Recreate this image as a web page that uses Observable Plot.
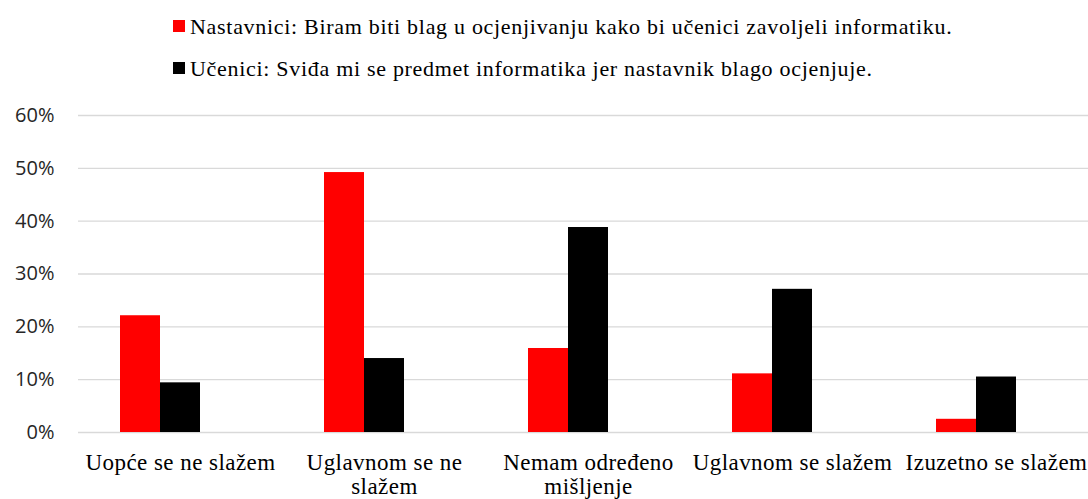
<!DOCTYPE html>
<html>
<head>
<meta charset="utf-8">
<script src="https://cdn.jsdelivr.net/npm/d3@7"></script>
<script src="https://cdn.jsdelivr.net/npm/@observablehq/plot@0.6"></script>
<style>
  html, body { margin: 0; padding: 0; background: #fff; }
  #chart svg { display: block; }
  #chart svg g[aria-label="text"] { letter-spacing: 0.45px; }
</style>
</head>
<body>
<div id="legend" style="height:90px;box-sizing:border-box;padding-top:6px;padding-left:173px;"></div>
<div id="chart"></div>
<script>
const categories = ["Uopće se ne slažem", "Uglavnom se ne slažem", "Nemam određeno mišljenje", "Uglavnom se slažem", "Izuzetno se slažem"];
const tickLabels = ["Uopće se ne slažem", "Uglavnom se ne\nslažem", "Nemam određeno\nmišljenje", "Uglavnom se slažem", "Izuzetno se slažem"];
const seriesNames = ["Nastavnici: Biram biti blag u ocjenjivanju kako bi učenici zavoljeli informatiku.",
                     "Učenici: Sviđa mi se predmet informatika jer nastavnik blago ocjenjuje."];
const seriesColors = ["#ff0000", "#000000"];
const nastavnici = [22.1, 49.2, 15.9, 11.1, 2.5];
const ucenici = [9.4, 14.0, 38.8, 27.1, 10.5];
const yTicks = [0, 10, 20, 30, 40, 50, 60];

const data = [];
categories.forEach((c, i) => {
  data.push({category: c, series: "N", value: nastavnici[i]});
  data.push({category: c, series: "U", value: ucenici[i]});
});

const serif = "'Liberation Serif', 'Times New Roman', serif";
const legend = document.getElementById("legend");
seriesNames.forEach((name, i) => {
  const d = document.createElement("div");
  d.style.cssText = `display:flex;align-items:center;white-space:nowrap;height:42px;font-family:${serif};font-size:22px;letter-spacing:0.7px;color:#000;`;
  const sw = document.createElement("span");
  sw.style.cssText = `display:inline-block;width:12px;height:12px;margin-right:5px;background:${seriesColors[i]};position:relative;top:-1px;`;
  const t = document.createElement("span");
  t.textContent = name;
  d.appendChild(sw);
  d.appendChild(t);
  legend.appendChild(d);
});

const fmt = c => tickLabels[categories.indexOf(c)];
const axisFont = {fontFamily: serif, fontSize: 23, fill: "#000"};

const chart = Plot.plot({
  width: 1088,
  height: 409,
  marginTop: 25,
  marginBottom: 67,
  marginLeft: 76,
  marginRight: -12,
  style: {background: "#fff", overflow: "hidden"},
  fx: {domain: categories, padding: 0, label: null, axis: null},
  x: {domain: ["N", "U", "_"], paddingInner: 0, paddingOuter: 1, axis: null},
  y: {domain: [0, 60], axis: null},
  color: {domain: ["N", "U"], range: seriesColors},
  marks: [
    Plot.gridY(yTicks, {stroke: "#d9d9d9", strokeOpacity: 1, strokeWidth: 1.4}),
    Plot.barY(data, {fx: "category", x: "series", y: "value", fill: "series"}),
    Plot.axisY(yTicks, {tickSize: 0, tickPadding: 24, tickFormat: d => d + "%",
      fontFamily: "'Open Sans', sans-serif", fontSize: 20, fill: "#262626", label: null}),
    Plot.text(categories, {fx: d => d, text: fmt, frameAnchor: "bottom", lineAnchor: "top",
      dy: 20, lineHeight: 1.05, ...axisFont})
  ]
});
document.getElementById("chart").appendChild(chart);
</script>
</body>
</html>
